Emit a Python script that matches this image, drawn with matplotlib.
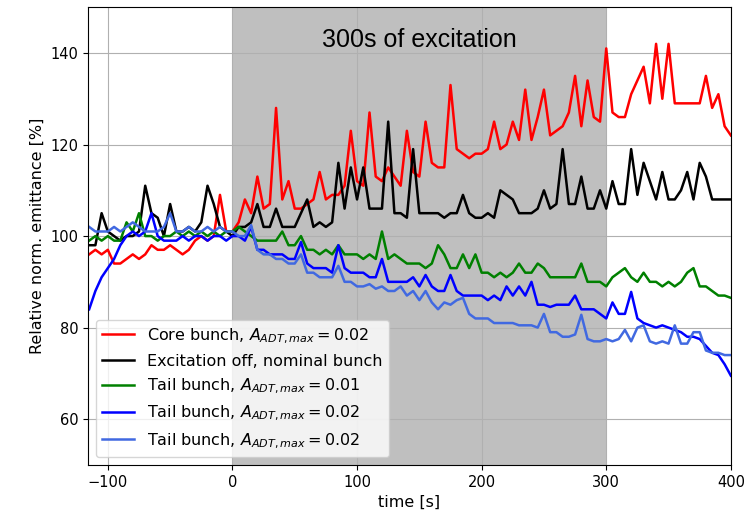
import numpy as np
import matplotlib
matplotlib.use("Agg")
import matplotlib.pyplot as plt

# time axis, one sample every 5 s
t = np.arange(-115, 401, 5)

core = [
    96, 97, 96, 97, 94, 94, 95, 96, 95, 96,
    98, 97, 97, 98, 97, 96, 97, 99, 100, 99,
    100, 109, 101, 101, 103, 108, 105, 113, 106, 107,
    128, 108, 112, 106, 106, 107, 108, 114, 108, 109,
    109, 111, 123, 112, 111, 127, 113, 112, 115, 113,
    111, 123, 114, 113, 125, 116, 115, 115, 133, 119,
    118, 117, 118, 118, 119, 125, 119, 120, 125, 121,
    132, 121, 126, 132, 122, 123, 124, 127, 135, 124,
    134, 126, 125, 141, 127, 126, 126, 131, 134, 137,
    129, 142, 130, 142, 129, 129, 129, 129, 129, 135,
    128, 131, 124, 122,
]

nominal = [
    98, 98, 105, 101, 100, 99, 100, 100, 101, 111,
    105, 104, 100, 107, 101, 101, 102, 101, 103, 111,
    107, 102, 101, 100, 102, 102, 103, 107, 102, 102,
    106, 102, 102, 102, 105, 108, 102, 103, 102, 103,
    116, 106, 115, 108, 115, 106, 106, 106, 125, 105,
    105, 104, 119, 105, 105, 105, 105, 104, 105, 105,
    109, 105, 104, 104, 105, 104, 110, 109, 108, 105,
    105, 105, 106, 110, 106, 107, 119, 107, 107, 113,
    106, 106, 110, 106, 112, 107, 107, 119, 109, 116,
    112, 108, 114, 108, 108, 110, 114, 108, 116, 113,
    108, 108, 108, 108,
]

tail_01 = [
    99, 100, 99, 100, 99, 99, 103, 101, 105, 100,
    100, 99, 100, 100, 101, 100, 101, 100, 101, 100,
    101, 100, 101, 101, 102, 101, 100, 99, 99, 99,
    99, 101, 98, 98, 100, 97, 97, 96, 97, 96,
    98, 96, 96, 96, 95, 96, 95, 101, 95, 96,
    95, 94, 94, 94, 93, 94, 98, 96, 93, 93,
    96, 93, 96, 92, 92, 91, 92, 91, 92, 94,
    92, 92, 94, 93, 91, 91, 91, 91, 91, 94,
    90, 90, 90, 89, 91, 92, 93, 91, 90, 92,
    90, 90, 89, 90, 89, 90, 92, 93, 89, 89,
    88, 87, 87, 86.5,
]

tail_02a = [
    84, 88, 91, 93, 95, 98, 100, 101, 100, 101,
    105, 100, 99, 99, 99, 100, 99, 100, 100, 99,
    100, 100, 99, 100, 100, 99, 102, 97, 97, 96,
    96, 96, 95, 95, 98.7, 94, 93, 93, 93, 92,
    98, 93, 92, 92, 92, 91, 91, 95, 90, 90,
    90, 90, 91, 89, 91.5, 89, 88, 88, 91.5, 88,
    87, 87, 87, 87, 86, 87, 86, 89, 87, 89,
    87, 90, 85, 85, 84.5, 85, 85, 85, 87, 84,
    84, 84, 83, 82, 85.5, 83, 83, 87.8, 82, 81,
    80.5, 80, 80.5, 80, 79.5, 79, 78, 78, 77.5, 76,
    74.5, 74, 72, 69.5,
]

tail_02b = [
    102, 101, 101, 101, 102, 101, 102, 103, 102, 101,
    101, 101, 102, 105, 101, 101, 102, 101, 101, 102,
    101, 102, 101, 101, 100, 100, 102.4, 97, 96, 96,
    95, 95, 94, 94, 96, 92, 92, 91, 91, 91,
    93.5, 90, 90, 89, 89, 89.5, 88.5, 89, 88, 88,
    89, 87, 88, 86, 88, 85.5, 84, 85.5, 85, 86,
    86.5, 83, 82, 82, 82, 81, 81, 81, 81, 80.5,
    80.5, 80.5, 80, 83, 79, 79, 78, 78, 78.5, 82.8,
    77.5, 77, 77, 77.5, 77, 77.5, 79.5, 77, 80, 80.5,
    77, 76.5, 77, 76.5, 80.5, 76.5, 76.5, 79, 79, 75,
    74.5, 74.5, 74, 74,
]

fig = plt.figure(figsize=(7.45, 5.16), dpi=100)
ax = fig.add_axes([0.118, 0.099, 0.863, 0.887])

ax.axvspan(0, 300, color='gray', alpha=0.5, lw=0)
lw = 1.8
ax.plot(t, core, color='red', lw=lw, label=r'Core bunch, $A_{ADT,max} = 0.02$')
ax.plot(t, nominal, color='black', lw=lw, label='Excitation off, nominal bunch')
ax.plot(t, tail_01, color='green', lw=lw, label=r'Tail bunch, $A_{ADT,max} = 0.01$')
ax.plot(t, tail_02a, color='blue', lw=lw, label=r'Tail bunch, $A_{ADT,max} = 0.02$')
ax.plot(t, tail_02b, color='royalblue', lw=lw, label=r'Tail bunch, $A_{ADT,max} = 0.02$')

ax.text(150, 142.8, '300s of excitation', ha='center', va='center',
        fontsize=18, family='Liberation Sans')

ax.set_xlim(-116, 400)
ax.set_ylim(50, 150)
ax.set_xticks([-100, 0, 100, 200, 300, 400])
ax.set_yticks([60, 80, 100, 120, 140])
ax.tick_params(labelsize=10.5)
ax.grid(True)
ax.set_xlabel('time [s]', fontsize=11.5)
ax.set_ylabel('Relative norm. emittance [%]', fontsize=11.5)
ax.legend(loc='lower left', fontsize=11.5)

fig.savefig('out.png', dpi=100)
